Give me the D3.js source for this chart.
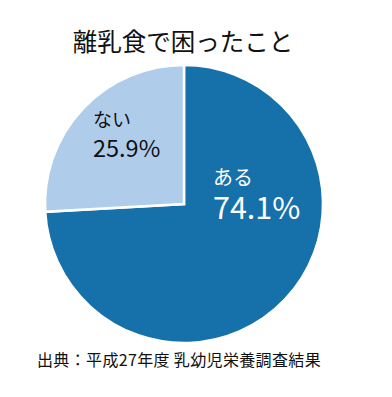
<!DOCTYPE html>
<html><head><meta charset="utf-8">
<script src="https://cdn.jsdelivr.net/npm/d3@7"></script>
<style>html,body{margin:0;padding:0;background:#fff;}svg{display:block;}</style>
</head><body>
<svg id="chart" width="392" height="397"></svg>
<script>
const categories = ["ある", "ない"];
const values = [74.1, 25.9];
const title = "離乳食で困ったこと";
const source = "出典：平成27年度 乳幼児栄養調査結果";

const colors = ["#1670a9", "#afcdeb"];
const labelColors = ["#ffffff", "#111111"];
const font = "'Noto Sans CJK JP', 'Noto Sans', sans-serif";

const svg = d3.select("#chart");
const cx = 184, cy = 204, r = 139;

svg.append("text").attr("x", 183).attr("y", 51).attr("text-anchor", "middle")
  .attr("font-family", font).attr("font-size", 24.5).attr("fill", "#111").text(title);

const pie = d3.pie().sort(null).value(d => d.v);
const data = pie(categories.map((c, i) => ({ c, v: values[i], i })));
const arc = d3.arc().innerRadius(0).outerRadius(r);

const g = svg.append("g").attr("transform", `translate(${cx},${cy})`);
g.selectAll("path").data(data).join("path")
  .attr("d", arc)
  .attr("fill", d => colors[d.data.i])
  .attr("stroke", "#fff").attr("stroke-width", 2.5).attr("stroke-linejoin", "miter");

// labels
const labelPos = [
  { x: 213, y1: 185, y2: 219, s1: 20, s2: 30.5 },
  { x: 93, y1: 127, y2: 157, s1: 19, s2: 23.5 }
];
data.forEach(d => {
  const i = d.data.i, p = labelPos[i];
  svg.append("text").attr("font-family", font).attr("fill", labelColors[i])
    .attr("x", p.x).attr("y", p.y1).attr("font-size", p.s1).text(d.data.c);
  svg.append("text").attr("font-family", font).attr("fill", labelColors[i])
    .attr("x", p.x).attr("y", p.y2).attr("font-size", p.s2)
    .text(d3.format(".1f")(d.data.v) + "%");
});

svg.append("text").attr("x", 37).attr("y", 366)
  .attr("font-family", font).attr("font-size", 16).attr("letter-spacing", 0.35)
  .attr("fill", "#111").text(source);
</script>
</body></html>
